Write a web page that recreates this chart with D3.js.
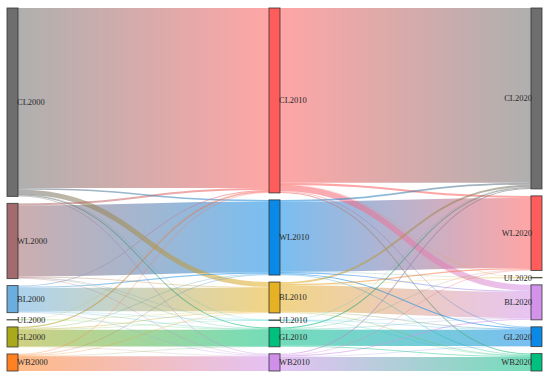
<!DOCTYPE html>
<html>
<head>
<meta charset="utf-8">
<script src="https://cdn.jsdelivr.net/npm/d3@7"></script>
<style>
  html, body { margin: 0; padding: 0; background: #fff; }
  #chart { width: 550px; height: 380px; }
</style>
</head>
<body>
<div id="chart"></div>
<script>
// ---- data ----
const years = ["2000", "2010", "2020"];
const landTypes = ["CL", "WL", "BL", "UL", "GL", "WB"];
// top-to-bottom order of the nodes in each year column
const columnOrder = [
    ["CL", "WL", "BL", "UL", "GL", "WB"],
    ["CL", "WL", "BL", "UL", "GL", "WB"],
    ["CL", "WL", "UL", "BL", "GL", "WB"]
];
// rows = from (landTypes order), cols = to (landTypes order)
const flows2000to2010 = [
    [1795, 15, 50, 2, 10, 8],
    [20, 710, 8, 1, 5, 6],
    [10, 12, 235, 1, 6, 6],
    [1, 0, 1, 0, 1, 0],
    [12, 6, 8, 1, 168, 5],
    [7, 7, 6, 0, 3, 147]
];
const flows2010to2020 = [
    [1745, 20, 60, 2, 8, 10],
    [18, 700, 12, 1, 12, 7],
    [20, 12, 260, 1, 8, 7],
    [2, 0, 1, 0, 1, 1],
    [10, 5, 6, 0, 163, 9],
    [10, 7, 10, 0, 5, 140]
];

const nodeColors = {
    CL2000: "#6e6e6e", WL2000: "#a36b6e", BL2000: "#6aaee0", UL2000: "#9bd85a", GL2000: "#a9a91c", WB2000: "#ff8122",
    CL2010: "#ff5c5c", WL2010: "#0a89e6", BL2010: "#e6b122", UL2010: "#36d6d6", GL2010: "#00c07f", WB2010: "#cf8fea",
    CL2020: "#6e6e6e", WL2020: "#ff5c5c", UL2020: "#e6b122", BL2020: "#d393ea", GL2020: "#0a89e6", WB2020: "#00c07f"
};

// ---- layout ----
const w = 550, h = 380;
const yTop = 8, yBottom = 371, nodeW = 11, minPad = 7;

const svg = d3.select("#chart")
    .append("svg")
    .attr("width", w)
    .attr("height", h);

// build nodes and links
const nodes = [];
years.forEach((yr, i) => {
    columnOrder[i].forEach(t => {
        nodes.push({ id: t + yr, type: t, col: i, sourceLinks: [], targetLinks: [] });
    });
});
const nodeById = new Map(nodes.map(d => [d.id, d]));

const links = [];
[flows2000to2010, flows2010to2020].forEach((m, i) => {
    m.forEach((row, r) => {
        row.forEach((v, c) => {
            if (v <= 0) return;
            const l = {
                source: nodeById.get(landTypes[r] + years[i]),
                target: nodeById.get(landTypes[c] + years[i + 1]),
                value: v
            };
            l.source.sourceLinks.push(l);
            l.target.targetLinks.push(l);
            links.push(l);
        });
    });
});

nodes.forEach(d => {
    d.value = Math.max(d3.sum(d.sourceLinks, l => l.value), d3.sum(d.targetLinks, l => l.value));
});

const x = d3.scalePoint().domain(years).range([7, w - 8 - nodeW]);
const colTotals = years.map((yr, i) => d3.sum(nodes.filter(d => d.col === i), d => d.value));
const maxN = d3.max(columnOrder, c => c.length);
const hScale = d3.scaleLinear()
    .domain([0, d3.max(colTotals)])
    .range([0, (yBottom - yTop) - (maxN - 1) * minPad]);

years.forEach((yr, i) => {
    const col = columnOrder[i].map(t => nodeById.get(t + yr));
    const sumH = d3.sum(col, d => hScale(d.value));
    const gap = (yBottom - yTop - sumH) / (col.length - 1);
    let y = yTop;
    col.forEach(d => {
        d.x0 = x(yr);
        d.x1 = d.x0 + nodeW;
        d.y0 = y;
        d.y1 = y + hScale(d.value);
        y = d.y1 + gap;
    });
});

// stack links on each node
nodes.forEach(d => {
    d.sourceLinks.sort((a, b) => a.target.y0 - b.target.y0);
    d.targetLinks.sort((a, b) => a.source.y0 - b.source.y0);
    let y0 = d.y0;
    d.sourceLinks.forEach(l => {
        l.width = hScale(l.value);
        l.y0 = y0 + l.width / 2;
        y0 += l.width;
    });
    let y1 = d.y0;
    d.targetLinks.forEach(l => {
        l.width = hScale(l.value);
        l.y1 = y1 + l.width / 2;
        y1 += l.width;
    });
});

// ---- draw ----
const defs = svg.append("defs");
links.forEach((l, i) => {
    l.gid = "grad-" + i;
    const g = defs.append("linearGradient")
        .attr("id", l.gid)
        .attr("gradientUnits", "userSpaceOnUse")
        .attr("x1", l.source.x1)
        .attr("x2", l.target.x0);
    g.append("stop").attr("offset", "0%").attr("stop-color", nodeColors[l.source.id]);
    g.append("stop").attr("offset", "100%").attr("stop-color", nodeColors[l.target.id]);
});

const linkPath = d3.linkHorizontal()
    .source(d => [d.source.x1, d.y0])
    .target(d => [d.target.x0, d.y1]);

svg.append("g")
    .attr("fill", "none")
    .selectAll("path")
    .data(links.slice().sort((a, b) => b.value - a.value))
    .join("path")
    .attr("d", linkPath)
    .attr("stroke", d => `url(#${d.gid})`)
    .attr("stroke-opacity", d => d.width < 1 ? 0.45 : 0.55)
    .attr("stroke-width", d => Math.max(0.5, d.width));

svg.append("g")
    .selectAll("rect")
    .data(nodes)
    .join("rect")
    .attr("x", d => d.x0)
    .attr("y", d => d.y0)
    .attr("width", d => d.x1 - d.x0)
    .attr("height", d => Math.max(0.3, d.y1 - d.y0))
    .attr("fill", d => nodeColors[d.id])
    .attr("stroke", "#333")
    .attr("stroke-opacity", 0.8)
    .attr("stroke-width", 1);

svg.append("g")
    .selectAll("text")
    .data(nodes)
    .join("text")
    .attr("x", d => d.col === years.length - 1 ? d.x0 + 1 : d.x1 - 1)
    .attr("y", d => (d.y0 + d.y1) / 2)
    .attr("dy", "0.35em")
    .attr("text-anchor", d => d.col === years.length - 1 ? "end" : "start")
    .style("font-family", "'Liberation Serif', serif")
    .style("font-size", "8.5px")
    .style("fill", "#2a2a2a")
    .text(d => d.id);
</script>
</body>
</html>
